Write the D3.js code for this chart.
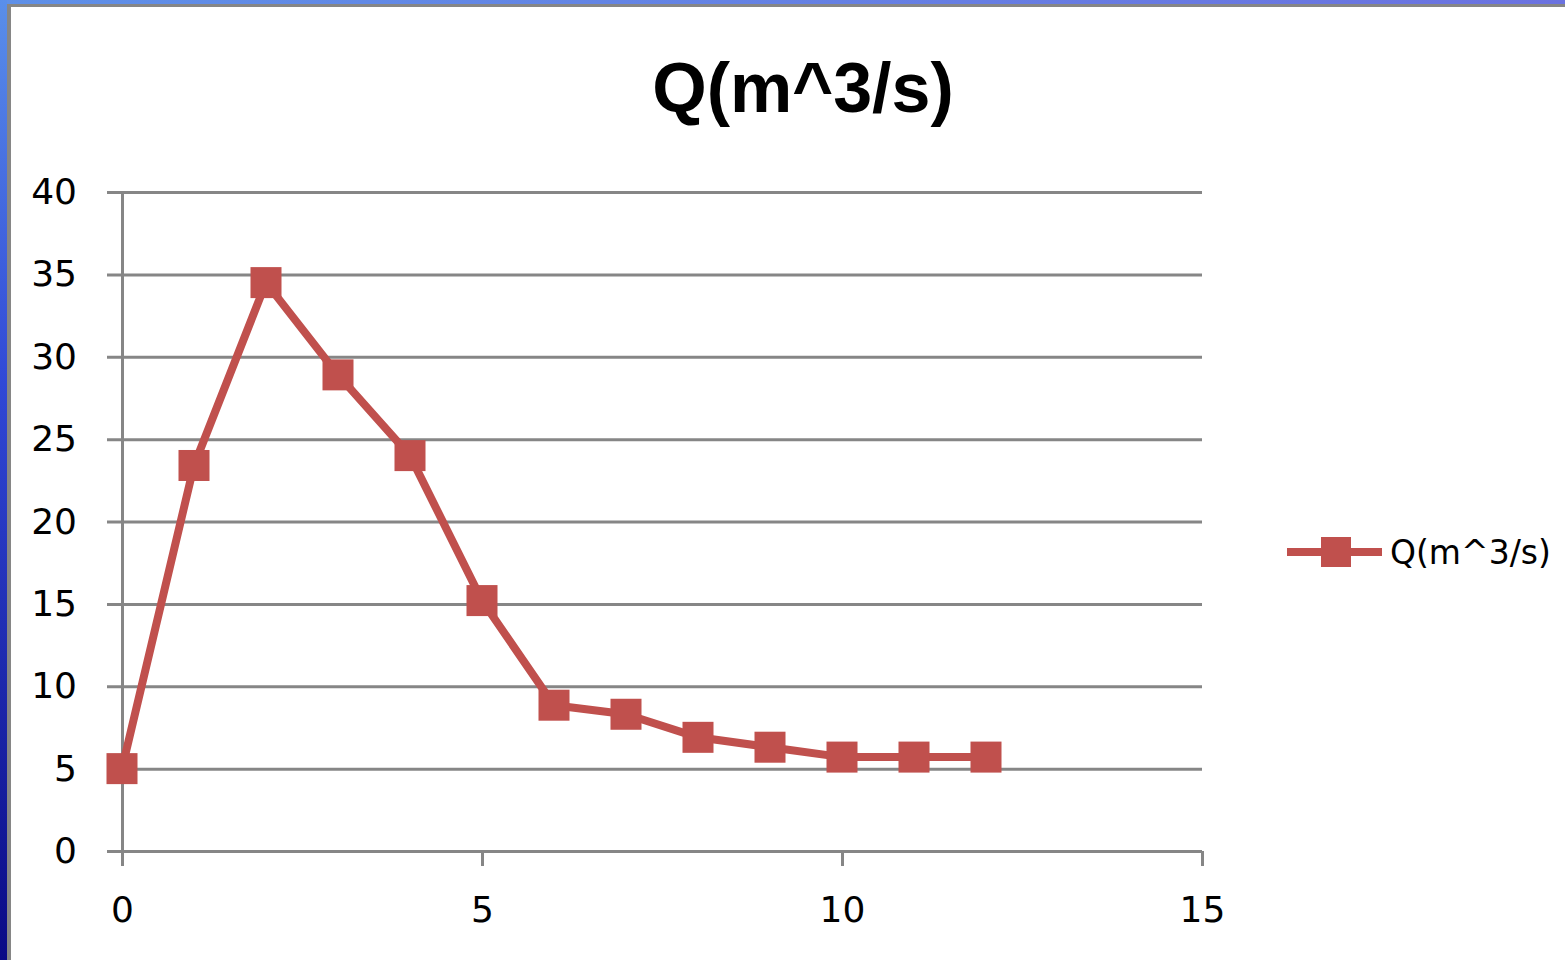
<!DOCTYPE html>
<html>
<head>
<meta charset="utf-8">
<script src="https://cdn.jsdelivr.net/npm/d3@7"></script>
<style>
  html, body { margin: 0; padding: 0; background: #fff; }
  svg { display: block; }
</style>
</head>
<body>
<div id="chart"></div>
<script>
// Data
const seriesName = "Q(m^3/s)";
const times = [0, 1, 2, 3, 4, 5, 6, 7, 8, 9, 10, 11, 12];
const flows = [5, 23.4, 34.5, 28.9, 24, 15.2, 8.85, 8.3, 6.9, 6.3, 5.7, 5.7, 5.7];
const xTicks = [0, 5, 10, 15];
const yTicks = [0, 5, 10, 15, 20, 25, 30, 35, 40];

const W = 1565, H = 960;
const margin = { top: 192, right: 363, bottom: 109, left: 122 };
const width = W - margin.left - margin.right;
const height = H - margin.top - margin.bottom;
const red = "#C0504D";
const grid = "#868686";

const svg = d3.select("#chart")
  .append("svg")
  .attr("width", W)
  .attr("height", H);

// slide frame: blue strips on the left and top, grey border
const defs = svg.append("defs");
const gLeft = defs.append("linearGradient").attr("id", "leftBlue")
  .attr("x1", 0).attr("y1", 0).attr("x2", 0).attr("y2", 1);
gLeft.append("stop").attr("offset", "0%").attr("stop-color", "#5a8fea");
gLeft.append("stop").attr("offset", "40%").attr("stop-color", "#3048d6");
gLeft.append("stop").attr("offset", "100%").attr("stop-color", "#0a0a85");
const gTop = defs.append("linearGradient").attr("id", "topBlue")
  .attr("x1", 0).attr("y1", 0).attr("x2", 1).attr("y2", 0);
gTop.append("stop").attr("offset", "0%").attr("stop-color", "#5e90e8");
gTop.append("stop").attr("offset", "100%").attr("stop-color", "#6b72e0");

svg.append("rect").attr("width", W).attr("height", H).attr("fill", "#fff");
svg.append("rect").attr("x", 0).attr("y", 0).attr("width", W).attr("height", 4).attr("fill", "url(#topBlue)");
svg.append("rect").attr("x", 0).attr("y", 0).attr("width", 7).attr("height", H).attr("fill", "url(#leftBlue)");
svg.append("rect").attr("x", 7).attr("y", 4).attr("width", W - 7).attr("height", 3).attr("fill", grid);
svg.append("rect").attr("x", 7).attr("y", 4).attr("width", 4).attr("height", H - 4).attr("fill", grid);

// title
svg.append("text")
  .attr("x", 803)
  .attr("y", 112)
  .attr("text-anchor", "middle")
  .style("font-family", "'Liberation Sans', Arial, sans-serif")
  .style("font-weight", "bold")
  .style("font-size", "70px")
  .attr("fill", "#000")
  .text(seriesName);

const g = svg.append("g")
  .attr("transform", `translate(${margin.left}, ${margin.top})`);

/////////////////////
// Scales
/////////////////////
const xScale = d3.scaleLinear().domain([0, 15]).range([0, width]);
const yScale = d3.scaleLinear().domain([0, 40]).range([height, 0]);

// y axis with gridlines
const yAxis = g.append("g")
  .call(d3.axisLeft(yScale).tickValues(yTicks).tickSizeInner(15).tickSizeOuter(0).tickPadding(30));
yAxis.selectAll(".tick line").attr("x1", width);
yAxis.selectAll("line, .domain").attr("stroke", grid).attr("stroke-width", 3);

// x axis
const xAxis = g.append("g")
  .attr("transform", `translate(0, ${height})`)
  .call(d3.axisBottom(xScale).tickValues(xTicks).tickSizeInner(15).tickSizeOuter(0).tickPadding(30));
xAxis.select(".domain").remove();
xAxis.selectAll("line").attr("stroke", grid).attr("stroke-width", 3);

svg.selectAll(".tick text")
  .style("font-family", "'DejaVu Sans', sans-serif")
  .style("font-size", "36px")
  .attr("fill", "#000");

// series
const points = times.map((t, i) => ({ t, q: flows[i] }));
const line = d3.line().x(d => xScale(d.t)).y(d => yScale(d.q));

g.append("path")
  .datum(points)
  .attr("d", line)
  .attr("fill", "none")
  .attr("stroke", red)
  .attr("stroke-width", 8)
  .attr("stroke-linejoin", "round");

const sq = 31;
g.selectAll(".marker")
  .data(points)
  .join("rect")
  .attr("class", "marker")
  .attr("x", d => xScale(d.t) - sq / 2)
  .attr("y", d => yScale(d.q) - sq / 2)
  .attr("width", sq)
  .attr("height", sq)
  .attr("fill", red);

// legend
const legend = svg.append("g").attr("transform", "translate(1287, 552)");
legend.append("line")
  .attr("x1", 0).attr("x2", 95)
  .attr("stroke", red).attr("stroke-width", 8);
legend.append("rect")
  .attr("x", 49 - 15).attr("y", -15)
  .attr("width", 30).attr("height", 30)
  .attr("fill", red);
legend.append("text")
  .attr("x", 103)
  .attr("dy", "0.36em")
  .style("font-family", "'DejaVu Sans', sans-serif")
  .style("font-size", "33px")
  .attr("fill", "#000")
  .text(seriesName);
</script>
</body>
</html>
